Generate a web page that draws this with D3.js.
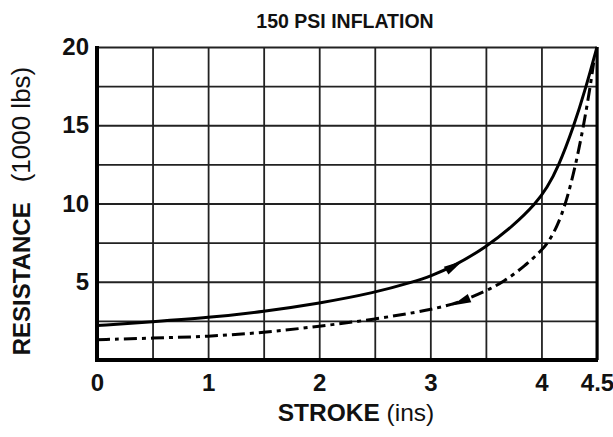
<!DOCTYPE html>
<html>
<head>
<meta charset="utf-8">
<script src="https://d3js.org/d3.v7.min.js"></script>
<style>
  body { margin: 0; background: #fff; }
  text { font-family: "Liberation Sans", Arial, Helvetica, sans-serif; fill: #111; }
</style>
</head>
<body>
<div id="chart-area"></div>
<script>
// loading curve (solid) - stroke in inches, resistance in 1000 lbs
var loadStroke = [0, 0.5, 1.0, 1.5, 2.0, 2.5, 2.85, 3.0, 3.2, 3.5, 3.75, 3.95, 4.05, 4.15, 4.29, 4.40, 4.5];
var loadRes    = [2.2, 2.45, 2.7, 3.1, 3.62, 4.3, 5.0, 5.35, 5.95, 7.2, 8.6, 10.0, 11.0, 12.3, 14.9, 17.4, 20.0];
// unloading curve (dash-dot)
var unloadStroke = [0, 0.5, 1.0, 1.5, 2.0, 2.5, 3.0, 3.25, 3.5, 3.66, 3.85, 4.0, 4.06, 4.14, 4.22, 4.31, 4.38, 4.44, 4.47];
var unloadRes    = [1.3, 1.4, 1.5, 1.75, 2.15, 2.6, 3.2, 3.65, 4.4, 5.0, 6.0, 7.0, 7.5, 8.5, 10.0, 12.5, 15.0, 17.5, 19.0];

var xTickLabels = [0, 1, 2, 3, 4, 4.5];
var yTickLabels = [5, 10, 15, 20];
var xGrid = d3.range(0, 4.51, 0.5);
var yGrid = d3.range(0, 20.01, 2.5);

var margin = {top: 47, right: 16, bottom: 77, left: 97};
var width = 613 - margin.left - margin.right;
var height = 437 - margin.top - margin.bottom;

var svg = d3.select("#chart-area").append("svg")
    .attr("width", 613)
    .attr("height", 437);
var g = svg.append("g")
    .attr("transform", "translate(" + margin.left + "," + margin.top + ")");

var x = d3.scaleLinear().domain([0, 4.5]).range([0, width]);
var y = d3.scaleLinear().domain([0, 20]).range([height, 0]);

// grid
g.append("g")
    .attr("class", "grid")
    .attr("transform", "translate(0," + height + ")")
    .call(d3.axisBottom(x).tickValues(xGrid).tickSize(-height).tickFormat(""))
    .call((s) => s.select(".domain").remove())
    .selectAll("line")
    .attr("stroke", "#222")
    .attr("stroke-width", 1.8);
g.append("g")
    .attr("class", "grid")
    .call(d3.axisLeft(y).tickValues(yGrid).tickSize(-width).tickFormat(""))
    .call((s) => s.select(".domain").remove())
    .selectAll("line")
    .attr("stroke", "#222")
    .attr("stroke-width", 1.8);

// frame
g.append("line").attr("x1", 0).attr("x2", 0).attr("y1", -1).attr("y2", height + 2)
    .attr("stroke", "#000").attr("stroke-width", 4);
g.append("line").attr("x1", -2).attr("x2", width + 1).attr("y1", height).attr("y2", height)
    .attr("stroke", "#000").attr("stroke-width", 4);
g.append("line").attr("x1", width).attr("x2", width).attr("y1", 0).attr("y2", height)
    .attr("stroke", "#000").attr("stroke-width", 3);

// tick labels
var xAxis = g.append("g")
    .attr("transform", "translate(0," + height + ")")
    .call(d3.axisBottom(x).tickValues(xTickLabels).tickSize(0).tickFormat(d3.format("")));
xAxis.select(".domain").remove();
xAxis.selectAll("text")
    .attr("y", 14)
    .attr("font-size", "24px")
    .attr("font-weight", "bold")
    .attr("dy", "0.71em");

var yAxis = g.append("g")
    .call(d3.axisLeft(y).tickValues(yTickLabels).tickSize(0));
yAxis.select(".domain").remove();
yAxis.selectAll("text")
    .attr("x", -8)
    .attr("font-size", "24px")
    .attr("font-weight", "bold");

// title
svg.append("text")
    .attr("x", 345)
    .attr("y", 28)
    .attr("text-anchor", "middle")
    .attr("font-size", "19.5px")
    .attr("font-weight", "bold")
    .text("150 PSI INFLATION");

// X label
var xl = svg.append("text")
    .attr("x", 356)
    .attr("y", 421)
    .attr("text-anchor", "middle")
    .attr("font-size", "24.5px");
xl.append("tspan").attr("font-weight", "bold").text("STROKE");
xl.append("tspan").text(" (ins)");

// Y label
var yl = svg.append("text")
    .attr("transform", "translate(30," + 211 + ") rotate(-90)")
    .attr("text-anchor", "middle")
    .attr("font-size", "24px");
yl.append("tspan").attr("font-weight", "bold").text("RESISTANCE");
yl.append("tspan").attr("dx", 20).attr("font-size", "26px").text("(1000 lbs)");

// curves
var line = d3.line()
    .x((d) => x(d[0]))
    .y((d) => y(d[1]))
    .curve(d3.curveBasis);

var loadData = loadStroke.map((d, i) => [d, loadRes[i]]);
var unloadData = unloadStroke.map((d, i) => [d, unloadRes[i]]);

g.append("path")
    .datum(loadData)
    .attr("fill", "none")
    .attr("stroke", "#000")
    .attr("stroke-width", 3)
    .attr("d", line);

g.append("path")
    .datum(unloadData)
    .attr("fill", "none")
    .attr("stroke", "#000")
    .attr("stroke-width", 3)
    .attr("stroke-dasharray", "13,5,4,5")
    .attr("d", line);

// arrowheads along the curves
function arrow(data, at, dir) {
  var i = d3.bisector((d) => d[0]).left(data, at);
  var a = data[i - 1], b = data[i];
  var t = (at - a[0]) / (b[0] - a[0]);
  var px = x(a[0] + t * (b[0] - a[0]));
  var py = y(a[1] + t * (b[1] - a[1]));
  var ang = Math.atan2(y(b[1]) - y(a[1]), x(b[0]) - x(a[0])) * 180 / Math.PI;
  if (dir < 0) ang += 180;
  g.append("path")
      .attr("d", "M9,0 L-10,-4.5 L-10,4.5 Z")
      .attr("fill", "#000")
      .attr("transform", "translate(" + px + "," + py + ") rotate(" + ang + ")");
}
arrow(loadData, 3.22, 1);
arrow(unloadData, 3.27, -1);
</script>
</body>
</html>
